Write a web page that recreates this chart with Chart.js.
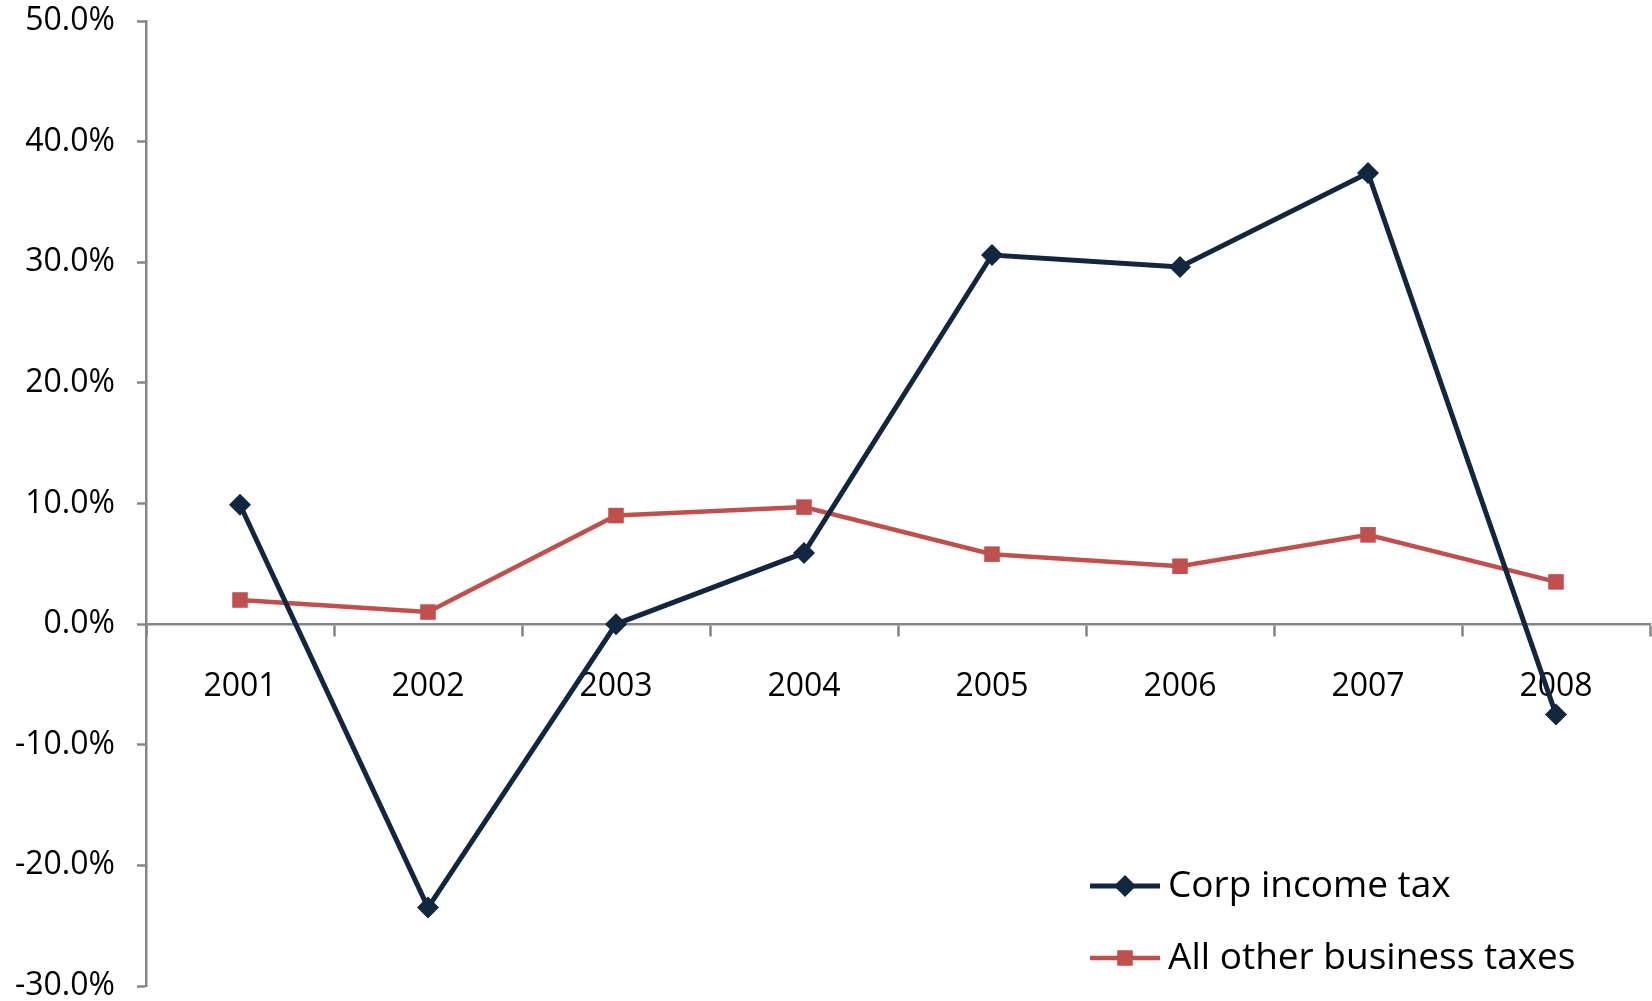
<!DOCTYPE html>
<html>
<head>
<meta charset="utf-8">
<script src="https://cdn.jsdelivr.net/npm/chart.js@4.4.1/dist/chart.umd.min.js"></script>
<style>
  html, body { margin: 0; padding: 0; background: #fff; overflow: hidden; }
  canvas { display: block; }
</style>
</head>
<body>
<canvas id="grafica1" width="1652" height="1001"></canvas>
<script>
const years = ["2001", "2002", "2003", "2004", "2005", "2006", "2007", "2008"];
const corpIncomeTax = [9.9, -23.5, 0.0, 5.9, 30.6, 29.6, 37.4, -7.5];
const otherBusinessTaxes = [2.0, 1.0, 9.0, 9.7, 5.8, 4.8, 7.4, 3.5];
const yTickValues = [-30, -20, -10, 0, 10, 20, 30, 40, 50];

const navy = "#13263f";
const red = "#c0504d";
const axisGray = "#868686";

// leyenda dentro del area de la grafica (abajo a la derecha)
const insideLegend = {
  id: "insideLegend",
  afterDraw(chart) {
    const ctx = chart.ctx;
    chart.data.datasets.forEach((ds, i) => {
      const y = 886 + i * 72;
      const x0 = 1090, x1 = 1160, cx = 1125;
      ctx.save();
      ctx.strokeStyle = ds.borderColor;
      ctx.lineWidth = ds.borderWidth;
      ctx.beginPath();
      ctx.moveTo(x0, y);
      ctx.lineTo(x1, y);
      ctx.stroke();
      ctx.fillStyle = ds.pointBackgroundColor;
      ctx.beginPath();
      const r = ds.pointRadius;
      if (ds.pointStyle === "rectRot") {
        ctx.moveTo(cx, y - r);
        ctx.lineTo(cx + r, y);
        ctx.lineTo(cx, y + r);
        ctx.lineTo(cx - r, y);
        ctx.closePath();
      } else {
        const h = r * Math.SQRT1_2;
        ctx.rect(cx - h, y - h, 2 * h, 2 * h);
      }
      ctx.fill();
      ctx.fillStyle = "#000";
      ctx.font = '37px "Open Sans"';
      ctx.textBaseline = "middle";
      ctx.fillText(ds.label, 1168, y);
      ctx.restore();
    });
  },
};

const ctx = document.getElementById("grafica1");

new Chart(ctx, {
  type: "line",
  data: {
    labels: years,
    datasets: [
      {
        label: "Corp income tax",
        data: corpIncomeTax,
        borderColor: navy,
        backgroundColor: navy,
        pointBackgroundColor: navy,
        pointBorderColor: navy,
        borderWidth: 5,
        pointStyle: "rectRot",
        pointRadius: 11,
        pointBorderWidth: 0,
        tension: 0,
      },
      {
        label: "All other business taxes",
        data: otherBusinessTaxes,
        borderColor: red,
        backgroundColor: red,
        pointBackgroundColor: red,
        pointBorderColor: red,
        borderWidth: 4.5,
        pointStyle: "rect",
        pointRadius: 11,
        pointBorderWidth: 0,
        tension: 0,
      },
    ],
  },
  options: {
    responsive: false,
    animation: false,
    devicePixelRatio: 1,
    layout: { autoPadding: false, padding: { top: 21, bottom: 15, left: 0, right: 2 } },
    plugins: {
      legend: { display: false },
      tooltip: { enabled: false },
    },
    scales: {
      x: {
        position: { y: 0 },
        offset: true,
        afterFit(scale) {
          scale.paddingLeft = 0;
          scale.paddingRight = 0;
        },
        grid: {
          offset: true,
          drawOnChartArea: false,
          drawTicks: true,
          tickLength: 11,
          tickWidth: 2.5,
          tickColor: axisGray,
        },
        border: { display: true, color: axisGray, width: 2.5 },
        ticks: {
          color: "#000",
          padding: 36,
          maxRotation: 0,
          font: { family: "Open Sans", size: 32, lineHeight: 1 },
        },
      },
      y: {
        min: -30,
        max: 50,
        afterBuildTicks(scale) {
          scale.ticks = yTickValues.map((v) => ({ value: v }));
        },
        afterFit(scale) {
          scale.width = 146;
          scale.paddingTop = 0;
          scale.paddingBottom = 0;
        },
        grid: {
          drawOnChartArea: false,
          drawTicks: true,
          tickLength: 9,
          tickWidth: 2.5,
          tickColor: axisGray,
        },
        border: { display: true, color: axisGray, width: 2.5 },
        ticks: {
          color: "#000",
          padding: 22,
          font: { family: "Open Sans", size: 32, lineHeight: 1 },
          callback: (v) => v.toFixed(1) + "%",
        },
      },
    },
  },
  plugins: [insideLegend],
});
</script>
</body>
</html>
